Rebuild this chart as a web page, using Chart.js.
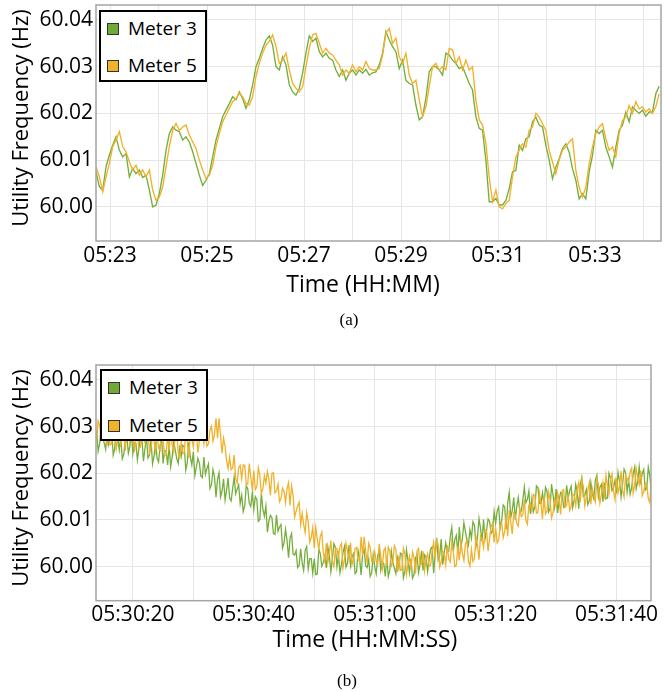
<!DOCTYPE html>
<html><head><meta charset="utf-8">
<script src="https://cdn.jsdelivr.net/npm/chart.js@4.4.1/dist/chart.umd.min.js"></script>
<style>
html,body{margin:0;padding:0;background:#fff;}
#page{position:relative;width:664px;height:692px;overflow:hidden;background:#fff;}
canvas{position:absolute;left:0;}
.legend{position:absolute;box-sizing:border-box;width:108px;height:72px;border:2px solid #000;background:#fff;font-family:"Open Sans",sans-serif;font-size:19px;color:#000;}
.legend .item{position:absolute;left:6px;height:24px;line-height:24px;white-space:nowrap;}
.legend .sw{display:inline-block;box-sizing:border-box;width:12px;height:12px;border:1.5px solid #333;vertical-align:middle;margin-right:9px;position:relative;top:-1px;}
.caption{position:absolute;font-family:"Liberation Serif","Times New Roman",serif;font-size:17px;color:#000;transform:translateX(-50%);line-height:20px;}
.xt{position:absolute;font-family:"Open Sans",sans-serif;font-size:23px;line-height:30px;color:#000;white-space:nowrap;transform:translate(-50%,-50%);}
.yt{position:absolute;font-family:"Open Sans",sans-serif;font-size:22px;line-height:26px;color:#000;white-space:nowrap;transform:translate(-50%,-50%) rotate(-90deg);}
</style></head>
<body>
<div id="page">
  <canvas id="cA" width="664" height="300" style="top:0px"></canvas>
  <canvas id="cB" width="664" height="315" style="top:340px"></canvas>
  <div class="yt" style="left:19px;top:118px">Utility Frequency (Hz)</div>
  <div class="yt" style="left:19px;top:478px">Utility Frequency (Hz)</div>
  <div class="xt" style="left:363px;top:283px">Time (HH:MM)</div>
  <div class="xt" style="left:365px;top:638px">Time (HH:MM:SS)</div>
  <div class="legend" style="left:99px;top:10px">
    <div class="item" style="top:4px"><span class="sw" style="background:#6FAA35"></span>Meter 3</div>
    <div class="item" style="top:41px"><span class="sw" style="background:#F0B32A"></span>Meter 5</div>
  </div>
  <div class="legend" style="left:100px;top:369px">
    <div class="item" style="top:4px"><span class="sw" style="background:#6FAA35"></span>Meter 3</div>
    <div class="item" style="top:42px"><span class="sw" style="background:#F0B32A"></span>Meter 5</div>
  </div>
  <div class="caption" style="left:349px;top:310px">(a)</div>
  <div class="caption" style="left:347px;top:671px">(b)</div>
</div>
<script>
// ---------- data ----------
const seriesNames = ["Meter 3", "Meter 5"];
const yTicks = [60.00, 60.01, 60.02, 60.03, 60.04];

// (a) time axis in minutes after 05:00
const topTickMinutes = [23, 24, 25, 26, 27, 28, 29, 30, 31, 32, 33, 34];
const topLabeledMinutes = [23, 25, 27, 29, 31, 33];
const topStartMin = 22.711;   // first sample time
const topStepMin = 0.0687;    // sampling interval (~4.1 s)

const meter3Top = [
60.0075,60.0043,60.0036,60.0086,60.0111,60.0132,60.0150,60.0121,60.0107,60.0114,60.0064,60.0082,60.0071,60.0079,60.0063,60.0068,60.0036,60.0000,60.0004,60.0029,60.0068,60.0121,60.0157,60.0171,60.0164,60.0161,60.0143,60.0150,60.0139,60.0118,60.0093,60.0068,60.0046,60.0057,60.0071,60.0107,60.0143,60.0168,60.0193,60.0207,60.0221,60.0236,
60.0229,60.0246,60.0232,60.0211,60.0229,60.0261,60.0300,60.0318,60.0339,60.0357,60.0366,60.0346,60.0300,60.0293,60.0321,60.0304,60.0261,60.0246,60.0239,60.0254,60.0286,60.0329,60.0366,60.0354,60.0361,60.0332,60.0321,60.0329,60.0318,60.0314,60.0293,60.0279,60.0293,60.0271,60.0286,60.0293,60.0282,60.0293,60.0286,60.0294,60.0282,60.0287,
60.0289,60.0304,60.0329,60.0375,60.0357,60.0343,60.0332,60.0296,60.0314,60.0271,60.0264,60.0261,60.0218,60.0186,60.0193,60.0232,60.0289,60.0300,60.0300,60.0293,60.0282,60.0329,60.0325,60.0314,60.0307,60.0296,60.0300,60.0282,60.0264,60.0250,60.0193,60.0168,60.0164,60.0100,60.0011,60.0011,60.0018,60.0004,60.0004,60.0014,60.0039,60.0075,
60.0078,60.0132,60.0121,60.0146,60.0150,60.0182,60.0192,60.0175,60.0171,60.0132,60.0100,60.0060,60.0085,60.0103,60.0125,60.0135,60.0117,60.0082,60.0057,60.0017,60.0028,60.0017,60.0075,60.0110,60.0164,60.0157,60.0164,60.0128,60.0107,60.0085,60.0128,60.0164,60.0175,60.0203,60.0182,60.0214,60.0207,60.0200,60.0207,60.0194,60.0203,60.0203,60.0242,60.0258
];
const meter5Top = [
60.0086,60.0064,60.0032,60.0064,60.0093,60.0129,60.0143,60.0161,60.0129,60.0118,60.0096,60.0079,60.0089,60.0068,60.0079,60.0064,60.0079,60.0036,60.0014,60.0021,60.0043,60.0086,60.0129,60.0164,60.0179,60.0164,60.0171,60.0175,60.0154,60.0139,60.0125,60.0100,60.0079,60.0061,60.0068,60.0089,60.0129,60.0157,60.0182,60.0196,60.0211,60.0225,
60.0232,60.0243,60.0236,60.0221,60.0218,60.0236,60.0279,60.0307,60.0329,60.0346,60.0354,60.0368,60.0343,60.0307,60.0314,60.0329,60.0293,60.0264,60.0254,60.0246,60.0257,60.0300,60.0339,60.0368,60.0371,60.0350,60.0329,60.0339,60.0329,60.0325,60.0314,60.0304,60.0282,60.0293,60.0286,60.0304,60.0289,60.0300,60.0293,60.0311,60.0296,60.0293,
60.0293,60.0296,60.0325,60.0371,60.0382,60.0350,60.0361,60.0321,60.0307,60.0329,60.0282,60.0264,60.0271,60.0229,60.0193,60.0214,60.0257,60.0300,60.0307,60.0293,60.0300,60.0293,60.0339,60.0336,60.0307,60.0321,60.0293,60.0314,60.0293,60.0300,60.0229,60.0186,60.0175,60.0136,60.0064,60.0011,60.0036,60.0000,59.9996,60.0007,60.0014,60.0064,
60.0107,60.0121,60.0135,60.0128,60.0164,60.0171,60.0200,60.0192,60.0178,60.0164,60.0121,60.0096,60.0071,60.0100,60.0121,60.0128,60.0139,60.0146,60.0078,60.0042,60.0021,60.0042,60.0092,60.0128,60.0157,60.0171,60.0178,60.0146,60.0121,60.0128,60.0107,60.0157,60.0185,60.0192,60.0217,60.0200,60.0225,60.0210,60.0214,60.0203,60.0210,60.0200,60.0214,60.0242
];

// (b) time axis in seconds after 05:30:00
const bottomTickSeconds = [20, 30, 40, 50, 60, 70, 80, 90, 100];
const bottomLabeledSeconds = [20, 40, 60, 80, 100];
const bottomStartSec = 14.0;
const bottomStepSec = 0.25;

const meter3Bottom = [
60.0291,60.0247,60.0263,60.0302,60.0277,60.0265,60.0251,60.0287, 60.0263,60.0292,60.0291,60.0239,60.0253,60.0299,60.0275,60.0250,
60.0277,60.0231,60.0241,60.0274,60.0281,60.0243,60.0257,60.0290, 60.0242,60.0265,60.0264,60.0229,60.0253,60.0278,60.0274,60.0226,
60.0253,60.0278,60.0233,60.0239,60.0272,60.0220,60.0236,60.0267, 60.0232,60.0224,60.0259,60.0275,60.0221,60.0249,60.0248,60.0218,
60.0260,60.0214,60.0235,60.0269,60.0250,60.0232,60.0221,60.0254, 60.0236,60.0260,60.0257,60.0207,60.0223,60.0267,60.0235,60.0218,
60.0246,60.0195,60.0213,60.0232,60.0222,60.0194,60.0191,60.0235, 60.0198,60.0210,60.0220,60.0167,60.0175,60.0208,60.0192,60.0149,
60.0187,60.0201,60.0149,60.0162,60.0188,60.0143,60.0164,60.0190, 60.0147,60.0141,60.0167,60.0192,60.0156,60.0166,60.0175,60.0135,
60.0153,60.0118,60.0130,60.0173,60.0167,60.0136,60.0129,60.0158, 60.0122,60.0150,60.0144,60.0097,60.0101,60.0157,60.0123,60.0108,
60.0130,60.0074,60.0098,60.0110,60.0105,60.0071,60.0069,60.0111, 60.0076,60.0085,60.0090,60.0040,60.0051,60.0080,60.0056,60.0019,
60.0061,60.0071,60.0027,60.0025,60.0034,59.9998,60.0003,60.0038, 60.0008,59.9992,60.0035,60.0043,59.9995,60.0017,60.0017,59.9986,
60.0017,59.9983,59.9984,60.0038,60.0028,60.0001,60.0009,60.0023, 59.9997,60.0042,60.0023,59.9989,60.0017,60.0049,60.0041,60.0000,
60.0025,59.9987,60.0004,60.0030,60.0043,59.9999,60.0007,60.0046, 60.0002,60.0021,60.0028,59.9985,59.9989,60.0034,60.0017,59.9982,
60.0028,60.0037,60.0002,59.9998,60.0016,59.9979,59.9986,60.0025, 60.0000,59.9985,60.0023,60.0036,59.9992,60.0010,60.0006,59.9979,
60.0020,59.9979,59.9993,60.0033,60.0009,59.9997,59.9985,60.0018, 59.9998,60.0029,60.0027,59.9976,59.9990,60.0036,60.0014,59.9987,
60.0017,59.9975,59.9983,60.0018,60.0026,59.9987,60.0005,60.0034, 59.9992,60.0025,60.0020,59.9989,60.0016,60.0038,60.0042,59.9986,
60.0028,60.0062,60.0014,60.0023,60.0059,60.0004,60.0030,60.0051, 60.0032,60.0033,60.0065,60.0084,60.0033,60.0058,60.0067,60.0027,
60.0085,60.0039,60.0060,60.0094,60.0075,60.0057,60.0046,60.0079, 60.0061,60.0096,60.0089,60.0043,60.0063,60.0103,60.0082,60.0054,
60.0101,60.0059,60.0078,60.0102,60.0097,60.0071,60.0076,60.0118, 60.0093,60.0119,60.0128,60.0083,60.0098,60.0132,60.0128,60.0080,
60.0137,60.0159,60.0105,60.0120,60.0148,60.0101,60.0129,60.0148, 60.0117,60.0119,60.0143,60.0170,60.0137,60.0144,60.0162,60.0113,
60.0146,60.0118,60.0128,60.0173,60.0169,60.0136,60.0135,60.0158, 60.0133,60.0170,60.0161,60.0117,60.0124,60.0177,60.0153,60.0128,
60.0166,60.0115,60.0142,60.0159,60.0158,60.0127,60.0130,60.0174, 60.0146,60.0163,60.0172,60.0127,60.0143,60.0176,60.0160,60.0124,
60.0176,60.0191,60.0150,60.0152,60.0165,60.0133,60.0142,60.0180, 60.0155,60.0145,60.0186,60.0196,60.0150,60.0170,60.0176,60.0139,
60.0180,60.0145,60.0147,60.0200,60.0190,60.0163,60.0169,60.0185, 60.0157,60.0202,60.0183,60.0149,60.0177,60.0209,60.0201,60.0160,
60.0185,60.0155,60.0169,60.0198,60.0213,60.0167,60.0182,60.0214, 60.0182,60.0200,60.0208,60.0164,60.0168,60.0213,60.0195,60.0161
];
const meter5Bottom = [
60.0271,60.0312,60.0303,60.0271,60.0279,60.0315,60.0308,60.0259, 60.0294,60.0261,60.0263,60.0308,60.0296,60.0252,60.0273,60.0291,
60.0260,60.0294,60.0284,60.0248,60.0295,60.0301,60.0264,60.0267, 60.0290,60.0245,60.0271,60.0280,60.0254,60.0256,60.0282,60.0305,
60.0264,60.0301,60.0293,60.0244,60.0255,60.0278,60.0270,60.0248, 60.0286,60.0254,60.0249,60.0291,60.0271,60.0238,60.0239,60.0282,
60.0249,60.0287,60.0262,60.0246,60.0280,60.0290,60.0243,60.0234, 60.0267,60.0242,60.0245,60.0289,60.0268,60.0233,60.0284,60.0272,
60.0256,60.0290,60.0291,60.0244,60.0269,60.0297,60.0301,60.0263, 60.0289,60.0258,60.0263,60.0293,60.0301,60.0269,60.0283,60.0318,
60.0275,60.0318,60.0281,60.0243,60.0275,60.0258,60.0227,60.0210, 60.0235,60.0208,60.0211,60.0239,60.0189,60.0179,60.0212,60.0217,
60.0189,60.0218,60.0217,60.0177,60.0177,60.0221,60.0192,60.0165, 60.0206,60.0165,60.0171,60.0212,60.0196,60.0156,60.0167,60.0195,
60.0179,60.0204,60.0187,60.0153,60.0200,60.0201,60.0158,60.0162, 60.0177,60.0139,60.0146,60.0168,60.0161,60.0137,60.0167,60.0180,
60.0131,60.0173,60.0153,60.0106,60.0119,60.0130,60.0138,60.0090, 60.0114,60.0090,60.0073,60.0116,60.0096,60.0052,60.0063,60.0084,
60.0040,60.0084,60.0059,60.0037,60.0065,60.0074,60.0029,60.0012, 60.0050,60.0009,60.0030,60.0056,60.0011,60.0000,60.0039,60.0039,
60.0019,60.0043,60.0050,59.9997,60.0015,60.0050,60.0033,60.0016, 60.0051,60.0004,60.0016,60.0039,60.0041,60.0015,60.0012,60.0064,
60.0024,60.0064,60.0035,60.0007,60.0050,60.0041,60.0011,60.0011, 60.0032,60.0012,60.0005,60.0049,60.0023,59.9996,60.0034,60.0040,
60.0001,60.0042,60.0033,60.0001,60.0009,60.0045,60.0037,59.9988, 60.0023,59.9992,59.9993,60.0039,60.0027,59.9983,60.0006,60.0022,
59.9994,60.0032,60.0020,59.9985,60.0033,60.0039,60.0005,60.0005, 60.0033,59.9991,60.0016,60.0027,60.0001,60.0003,60.0032,60.0052,
60.0016,60.0056,60.0047,59.9999,60.0011,60.0033,60.0028,60.0003, 60.0046,60.0016,60.0010,60.0053,60.0033,60.0000,60.0003,60.0044,
60.0014,60.0054,60.0028,60.0013,60.0048,60.0057,60.0012,60.0001, 60.0037,60.0011,60.0018,60.0064,60.0046,60.0015,60.0065,60.0060,
60.0041,60.0079,60.0078,60.0033,60.0059,60.0086,60.0093,60.0052, 60.0084,60.0051,60.0057,60.0086,60.0093,60.0062,60.0075,60.0111,
60.0065,60.0121,60.0096,60.0070,60.0115,60.0111,60.0092,60.0087, 60.0125,60.0107,60.0111,60.0144,60.0099,60.0091,60.0132,60.0135,
60.0119,60.0155,60.0151,60.0114,60.0116,60.0158,60.0134,60.0102, 60.0153,60.0113,60.0119,60.0160,60.0144,60.0104,60.0116,60.0143,
60.0129,60.0158,60.0143,60.0112,60.0163,60.0165,60.0127,60.0131, 60.0152,60.0120,60.0129,60.0155,60.0152,60.0131,60.0166,60.0180,
60.0138,60.0187,60.0172,60.0130,60.0149,60.0164,60.0180,60.0134, 60.0167,60.0152,60.0139,60.0189,60.0175,60.0136,60.0155,60.0180,
60.0145,60.0196,60.0173,60.0155,60.0187,60.0199,60.0161,60.0143, 60.0190,60.0158,60.0175,60.0205,60.0163,60.0149,60.0196,60.0188,
60.0182,60.0203,60.0211,60.0157,60.0174,60.0210,60.0190,60.0176, 60.0206,60.0152,60.0161,60.0179,60.0176,60.0146,60.0137,60.0187
];

// ---------- styling ----------
const GREEN = '#74AE3B', ORANGE = '#F1B12A';
const FONT = '"Open Sans", sans-serif';
const pad2 = n => String(n).padStart(2, '0');

const frame = {
  id: 'frame',
  afterDraw(c) {
    const a = c.chartArea, x = c.ctx;
    x.save(); x.strokeStyle = '#a4a4a4'; x.lineWidth = 1.5;
    x.strokeRect(a.left, a.top, a.right - a.left, a.bottom - a.top);
    x.restore();
  }
};

function toPoints(vals, t0, dt) { return vals.map((v, i) => ({ x: t0 + i * dt, y: v })); }

function build(canvas, o) {
  return new Chart(canvas, {
    type: 'line',
    data: {
      datasets: [
        { label: seriesNames[0], data: o.d3, borderColor: GREEN, borderWidth: o.lw, pointRadius: 0, tension: 0, order: 1 },
        { label: seriesNames[1], data: o.d5, borderColor: ORANGE, borderWidth: o.lw, pointRadius: 0, tension: 0, order: 0 }
      ]
    },
    options: {
      responsive: false, animation: false, devicePixelRatio: 1,
      parsing: false, normalized: true,
      layout: { padding: o.padding },
      plugins: { legend: { display: false }, tooltip: { enabled: false } },
      scales: {
        x: {
          type: 'linear', min: o.xmin, max: o.xmax,
          afterBuildTicks: s => { s.ticks = o.xTicks.map(v => ({ value: v })); },
          afterFit: s => { s.height = o.xh; s.paddingLeft = 0; s.paddingRight = 0; },
          ticks: { autoSkip: false, maxRotation: 0, padding: 2, color: '#000', font: { family: FONT, size: 21 },
                   callback: o.xLabel },
          grid: { color: '#e6e6e6', lineWidth: 1, drawTicks: false },
          border: { display: false },
          title: { display: false }
        },
        y: {
          type: 'linear', min: 59.9927, max: 60.0432,
          afterBuildTicks: s => { s.ticks = yTicks.map(v => ({ value: v })); },
          afterFit: s => { s.width = 96; s.paddingTop = 0; s.paddingBottom = 0; },
          ticks: { padding: 3, color: '#000', font: { family: FONT, size: 21 }, callback: v => v.toFixed(2) },
          grid: { color: '#e6e6e6', lineWidth: 1, drawTicks: false },
          border: { display: false },
          title: { display: false }
        }
      }
    },
    plugins: [frame]
  });
}

function draw() {
  build(document.getElementById('cA'), {
    d3: toPoints(meter3Top, topStartMin, topStepMin),
    d5: toPoints(meter5Top, topStartMin, topStepMin),
    lw: 1.35,
    padding: { left: 0, right: 3, top: 5, bottom: 0 },
    xmin: 22.71, xmax: 34.36, xh: 59,
    xTicks: topTickMinutes,
    xLabel: v => topLabeledMinutes.includes(v) ? '05:' + pad2(v) : ''
  });
  build(document.getElementById('cB'), {
    d3: toPoints(meter3Bottom, bottomStartSec, bottomStepSec),
    d5: toPoints(meter5Bottom, bottomStartSec, bottomStepSec),
    lw: 1.3,
    padding: { left: 0, right: 13, top: 25, bottom: 0 },
    xmin: 13.9, xmax: 105.7, xh: 54.3,
    xTicks: bottomTickSeconds,
    xLabel: v => bottomLabeledSeconds.includes(v) ? '05:' + pad2(30 + Math.floor(v / 60)) + ':' + pad2(v % 60) : ''
  });
}

if (document.fonts && document.fonts.load) {
  Promise.all([document.fonts.load('21px "Open Sans"'), document.fonts.load('16px "Liberation Serif"')]).then(draw, draw);
} else { draw(); }
</script>
</body></html>
